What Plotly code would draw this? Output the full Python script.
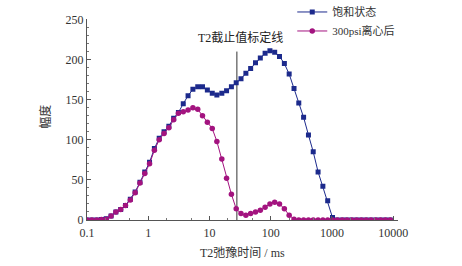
import plotly.graph_objects as go

t2 = [0.100, 0.120, 0.144, 0.172, 0.206, 0.247, 0.296, 0.355, 0.425, 0.510,
      0.611, 0.732, 0.877, 1.05, 1.26, 1.51, 1.81, 2.17, 2.60, 3.11,
      3.73, 4.47, 5.36, 6.43, 7.69, 9.23, 11.1, 13.2, 15.9, 19.0,
      22.8, 27.3, 32.7, 39.3, 47.0, 56.4, 67.6, 80.9, 97.0, 116,
      139, 167, 200, 240, 287, 344, 413, 494, 593, 710,
      851, 1020, 1220, 1470, 1750, 2100, 2520, 3020, 3620, 4340,
      5200, 6230, 7470, 8950]

saturated = [0, 0, 0, 0.5, 1.5, 5, 10, 13, 18, 26,
             35, 47, 60, 72, 89, 102, 110, 117, 127, 134,
             145, 155, 163, 166, 166, 162, 158, 156, 158, 161,
             166, 171, 176, 183, 189, 196, 202, 208, 211, 209,
             204, 195, 182, 164, 146, 128, 106, 85, 60, 42,
             24, 3, 0, 0, 0, 0, 0, 0, 0, 0,
             0, 0, 0, 0]

centrifuged = [0, 0, 0, 0.5, 1, 5, 10, 13, 18, 25,
               34, 46, 58, 70, 87, 100, 108, 115, 125, 133,
               135, 137, 140, 138, 130, 122, 114, 98, 76, 52,
               32, 14, 8, 6, 8, 10, 12, 16, 20, 22,
               20, 14, 6, 1, 0, 0, 0, 0, 0, 0,
               0, 0, 0, 0, 0, 0, 0, 0, 0, 0,
               0, 0, 0, 0]

cutoff_t2 = 28
cutoff_top = 210
xtick_vals = [0.1, 1, 10, 100, 1000, 10000]
xtick_text = ["0.1", "1", "10", "100", "1000", "10000"]
ytick_vals = [0, 50, 100, 150, 200, 250]

FONT = "'Liberation Serif', 'Times New Roman', 'Noto Sans CJK SC', serif"
BLUE = "#1c2a8c"
PINK = "#a3137f"

fig = go.Figure()
fig.add_trace(go.Scatter(
    x=[cutoff_t2, cutoff_t2], y=[0, cutoff_top], mode="lines",
    line=dict(color="#333333", width=1), showlegend=False, hoverinfo="skip"))
fig.add_trace(go.Scatter(
    x=t2, y=saturated, mode="lines+markers", name="饱和状态",
    line=dict(color=BLUE, width=1),
    marker=dict(symbol="square", size=5, color=BLUE)))
fig.add_trace(go.Scatter(
    x=t2, y=centrifuged, mode="lines+markers", name="300psi离心后",
    line=dict(color=PINK, width=1),
    marker=dict(symbol="circle", size=5.5, color=PINK)))

fig.add_annotation(x=0.492, xref="paper", y=0.847, yref="paper", yanchor="middle",
                   text="T2截止值标定线", showarrow=False,
                   font=dict(family=FONT, size=12, color="#222222"))
fig.add_annotation(x=0.5, xref="paper", y=-0.155, yref="paper", yanchor="middle",
                   text="T2弛豫时间 / ms", showarrow=False,
                   font=dict(family=FONT, size=12, color="#333333"))
fig.add_annotation(x=-0.132, xref="paper", y=0.48, yref="paper",
                   xanchor="center", yanchor="middle", textangle=-90,
                   text="幅度", showarrow=False,
                   font=dict(family=FONT, size=12, color="#333333"))

fig.update_layout(
    width=462, height=266,
    margin=dict(l=87, r=64, t=5, b=46, autoexpand=False),
    paper_bgcolor="white", plot_bgcolor="white",
    font=dict(family=FONT, size=11, color="#333333"),
    legend=dict(x=0.66, y=1.035, xanchor="left", yanchor="top",
                bgcolor="rgba(0,0,0,0)", font=dict(family=FONT, size=11, color="#333333"),
                tracegroupgap=0, itemwidth=30),
    showlegend=True,
)
fig.update_xaxes(
    type="log", range=[-1, 4.078], automargin=False,
    tickvals=xtick_vals, ticktext=xtick_text,
    showline=True, linecolor="#555555", linewidth=1,
    ticks="inside", ticklen=4, tickcolor="#555555",
    minor=dict(ticks="inside", ticklen=2, tickcolor="#777777", showgrid=False),
    showgrid=False, zeroline=False, ticklabelstandoff=2,
    tickfont=dict(family=FONT, size=12, color="#333333"),
)
fig.update_yaxes(
    range=[0, 250], tickvals=ytick_vals, domain=[0, 0.9326], automargin=False,
    showline=True, linecolor="#555555", linewidth=1,
    ticks="inside", ticklen=4, tickcolor="#555555",
    minor=dict(ticks="inside", ticklen=2, dtick=10, tickcolor="#777777", showgrid=False),
    showgrid=False, zeroline=False,
    tickfont=dict(family=FONT, size=12, color="#333333"),
)

fig.write_html("out.html", config={"displayModeBar": False},
               post_script="document.body.style.margin='0';document.body.style.overflow='hidden';")
